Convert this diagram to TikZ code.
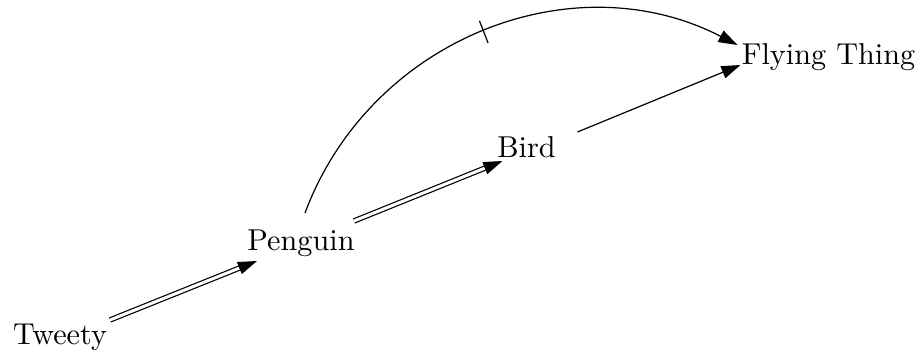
\documentclass[tikz,border=0pt]{standalone}
\usetikzlibrary{arrows.meta,calc}
\begin{document}
\begin{tikzpicture}[x=0.331pt,y=-0.331pt,
  lbl/.style={anchor=base,inner sep=0pt,font=\fontsize{10}{12}\selectfont},
  tipst/.style={line width=0.4pt,-{Triangle[length=6.3pt,width=4.2pt]}},
  dbl/.style={double,double distance=1pt,line width=0.4pt,shorten >=5.8pt},
  tickmark/.style={sloped,inner sep=0pt}]
\useasboundingbox (0,0) rectangle (922,356);
\node[lbl] (t) at (60,345) {Tweety};
\node[lbl] (p) at (301,251) {Penguin};
\node[lbl] (b) at (526.5,158) {Bird};
\node[lbl] (f) at (828.5,65) {Flying Thing};
% Tweety -> Penguin (double)
\coordinate (a1) at ($(t.base)+(50,-25)$);
\coordinate (a2) at ($(p.base)+(-44,10)$);
\draw[dbl] (a1) -- (a2);
\draw[tipst] ($(a2)!6.3pt!(a1)$) -- (a2);
% Penguin -> Bird (double)
\coordinate (b1) at ($(p.base)+(53,-30)$);
\coordinate (b2) at ($(b.base)+(-24,3)$);
\draw[dbl] (b1) -- (b2);
\draw[tipst] ($(b2)!6.3pt!(b1)$) -- (b2);
% Bird -> Flying Thing
\coordinate (d1) at ($(b.base)+(51,-26)$);
\coordinate (d2) at ($(f.base)+(-88,0)$);
\draw[tipst] (d1) -- (d2);
% Penguin -> Flying Thing (curved, cancelled)
\coordinate (c0) at ($(p.base)+(4,-38)$);
\coordinate (c3) at ($(f.base)+(-91,-20)$);
\draw[tipst] (c0) .. controls ($(c0)+(65,-174)$) and ($(c3)+(-165,-85)$) .. (c3)
  node[tickmark,pos=0.5] (tk) {\rule{0.4pt}{7.9pt}};
\end{tikzpicture}
\end{document}
